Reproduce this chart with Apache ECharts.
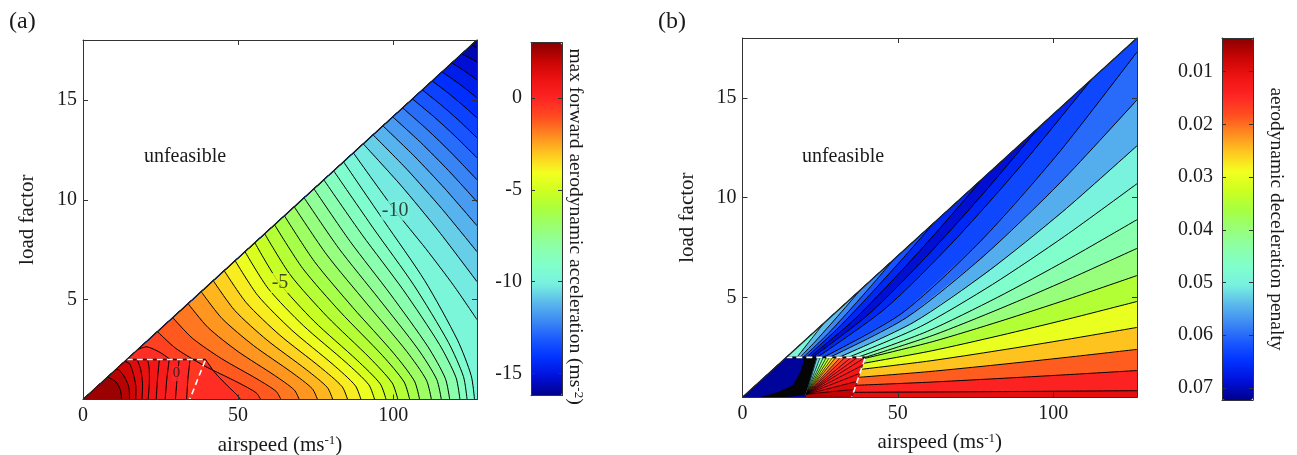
<!DOCTYPE html>
<html>
<head>
<meta charset="utf-8">
<script src="https://cdn.jsdelivr.net/npm/echarts@6/dist/echarts.min.js"></script>
<style>
  html, body { margin: 0; padding: 0; background: #fff; }
  #main { width: 1297px; height: 455px; }
</style>
</head>
<body>
<div id="main"></div>
<script>
const FONT = '"Liberation Serif", "DejaVu Serif", serif';
const TXT = '#1a1a1a';
const AXIS = '#333';
const VMAX = 127;   // airspeed range (ms-1)
const NMAX = 18;    // load factor range

// colour map of both colour bars, from the low end (dark blue) to the high end (dark red)
const jetColors = ['#00008a', '#0010d8', '#0030ff', '#1a58ff', '#3c88f4', '#5ab8ec', '#78f0e0',
  '#80ffcc', '#8cffa8', '#98ff78', '#a8ff40', '#ccff20', '#f4ff20', '#ffc820', '#ff8a20',
  '#ff4c20', '#ff2424', '#ee1212', '#c80404', '#880000'];

// ---------- panel (a): max forward aerodynamic acceleration ----------
const cbarRangeA = [-16.2, 3];
const cbarTicksA = [-15, -10, -5, 0];

// contour lines outside the dashed box, [airspeed, load factor], from the box outwards
const contoursA = [
  [[23.99, 3.4], [29.99, 2.55], [38.98, 1.7], [49.97, 0.85], [55.8, 0.34], [57.3, 0]],
  [[28.93, 4.1], [35.21, 3.075], [44.62, 2.05], [56.13, 1.025], [62.23, 0.41], [63.8, 0]],
  [[33.87, 4.8], [40.32, 3.6], [49.99, 2.4], [61.82, 1.2], [68.09, 0.48], [69.7, 0]],
  [[38.1, 5.4], [44.85, 4.05], [54.98, 2.7], [67.35, 1.35], [73.91, 0.54], [75.6, 0]],
  [[41.98, 5.95], [48.91, 4.46], [59.31, 2.975], [72.03, 1.49], [78.77, 0.6], [80.5, 0]],
  [[45.51, 6.45], [52.67, 4.84], [63.42, 3.225], [76.55, 1.61], [83.51, 0.645], [85.3, 0]],
  [[49.04, 6.95], [56.34, 5.21], [67.29, 3.475], [80.68, 1.74], [87.77, 0.695], [89.6, 0]],
  [[52.21, 7.4], [59.73, 5.55], [71.02, 3.7], [84.81, 1.85], [92.12, 0.74], [94, 0]],
  [[55.39, 7.85], [63.0, 5.89], [74.43, 3.925], [88.39, 1.96], [95.8, 0.785], [97.7, 0]],
  [[58.56, 8.3], [66.89, 6.225], [78.7, 4.15], [92.48, 2.075], [99.65, 0.83], [101.5, 0]],
  [[61.74, 8.75], [70.84, 6.56], [83.0, 4.375], [96.59, 2.19], [103.51, 0.875], [105.3, 0]],
  [[64.92, 9.2], [74.64, 6.9], [87.01, 4.6], [100.22, 2.3], [106.84, 0.92], [108.5, 0]],
  [[68.09, 9.65], [78.61, 7.24], [91.35, 4.825], [104.34, 2.41], [110.71, 0.965], [112.3, 0]],
  [[71.27, 10.1], [82.42, 7.575], [95.33, 5.05], [107.98, 2.525], [114.0, 1.01], [115.5, 0]],
  [[74.44, 10.55], [86.12, 7.91], [99.08, 5.275], [111.2, 2.64], [116.8, 1.055], [118.2, 0]],
  [[77.62, 11.0], [89.95, 8.25], [103.16, 5.5], [114.92, 2.75], [120.23, 1.1], [121.5, 0]],
  [[80.79, 11.45], [93.52, 8.59], [106.64, 5.725], [117.78, 2.86], [122.64, 1.145], [123.8, 0]],
  [[83.97, 11.9], [97.06, 8.925], [110.15, 5.95], [120.71, 2.975], [125.14, 1.19], [126.2, 0]],
  [[87.14, 12.35], [100.6, 9.46], [110.5, 7.55], [119.5, 5.7], [127, 4.0]],
  [[90.32, 12.8], [102.42, 10.73], [114.53, 8.45], [127, 5.9]],
  [[93.49, 13.25], [104.55, 11.5], [115.61, 9.56], [127, 7.4]],
  [[96.67, 13.7], [106.68, 12.2], [116.69, 10.55], [127, 8.7]],
  [[99.84, 14.15], [108.8, 12.875], [117.77, 11.47], [127, 9.9]],
  [[103.02, 14.6], [110.93, 13.52], [118.85, 12.33], [127, 11.0]],
  [[106.19, 15.05], [113.06, 14.165], [119.92, 13.19], [127, 12.1]],
  [[109.37, 15.5], [115.19, 14.78], [121.01, 13.99], [127, 13.1]],
  [[112.54, 15.95], [117.31, 15.395], [122.08, 14.78], [127, 14.1]],
  [[115.72, 16.4], [119.44, 16.01], [123.16, 15.58], [127, 15.1]],
  [[118.89, 16.85], [121.57, 16.595], [124.24, 16.31], [127, 16.0]],
  [[122.07, 17.3], [123.7, 17.18], [125.32, 17.05], [127, 16.9]],
  [[125.24, 17.75], [127, 17.6]]
];
// value of the band lying beyond each of those lines
const bandsA = [-1.25, -1.75, -2.25, -2.75, -3.25, -3.75, -4.25, -4.75, -5.25, -5.75, -6.25,
  -6.75, -7.25, -7.75, -8.25, -8.75, -9.25, -9.75, -10.25, -10.75, -11.25, -11.75, -12.25,
  -12.75, -13.25, -13.75, -14.25, -14.75, -15.25, -15.75, -16.15];
const baseA = -0.75;

// the two short lines that hug the box, and the value on their box side
const nearBoxA = [
  [[17.64, 2.5], [20.6, 2.64], [24.9, 2.35], [28.2, 2.0]],
  [[39.5, 2.0], [42.5, 1.35], [46.5, 0.7], [49.5, 0.25], [50.8, 0]]
];
const nearBoxValsA = [-0.25, -0.25];

// dashed box and the contours inside it
const boxA = [[0, 0], [14.11, 2], [39.5, 2], [34.4, 0]];
const boxValA = -0.5;
const innerA = [
  [[33.4, 0], [33.8, 1.0], [34.5, 2]],
  [[29.8, 0], [30.3, 1.0], [31, 2]],
  [[26.5, 0], [27, 1.0], [27.8, 2]],
  [[23.6, 0], [24, 1.0], [24.6, 2]],
  [[21, 0], [21.4, 0.9], [21.3, 1.6], [20.8, 2]],
  [[19, 0], [19.2, 0.8], [18.6, 1.5], [17.5, 2]],
  [[17, 0], [17, 0.7], [16.2, 1.3], [15, 1.8], [13.5, 1.91]],
  [[15, 0], [14.8, 0.6], [13.5, 1.1], [11.5, 1.5], [10.5, 1.49]],
  [[12.5, 0], [12, 0.5], [10.5, 0.9], [8, 1.13]]
];
const innerValsA = [-0.1, 0.15, 0.45, 0.75, 1.05, 1.4, 1.8, 2.25, 2.7];

// inline contour labels [airspeed, load factor, text, background, font size]
const labelsA = [
  [63.5, 5.83, '-5', '#d8ff20', 20],
  [100.6, 9.46, '-10', '#7cf4dc', 20],
  [30.1, 1.3, '0', '#ff2a2a', 15]
];

// ---------- panel (b): aerodynamic deceleration penalty ----------
const cbarRangeB = [0.0036, 0.0723];
const cbarTicksB = [0.01, 0.02, 0.03, 0.04, 0.05, 0.06, 0.07];

// contour lines outside the box: fan to the right edge, then lines to the diagonal
const contoursB = [
  [[35.74, 0.25], [58.56, 0.266], [81.37, 0.286], [104.19, 0.307], [127, 0.33]],
  [[36.49, 0.6], [59.12, 0.75], [81.75, 0.934], [104.37, 1.131], [127, 1.34]],
  [[37.35, 1.0], [59.76, 1.284], [82.18, 1.631], [104.59, 2.005], [127, 2.4]],
  [[38.21, 1.4], [60.41, 1.826], [82.61, 2.347], [104.8, 2.908], [127, 3.5]],
  [[38.86, 1.7], [60.9, 2.329], [82.93, 3.098], [104.97, 3.926], [127, 4.8]],
  [[39.39, 1.95], [61.29, 2.792], [83.2, 3.822], [105.1, 4.93], [127, 6.1]],
  [[39.5, 2.0], [61.38, 3.108], [83.25, 4.462], [105.13, 5.92], [127, 7.46]],
  [[37, 2], [59.5, 3.304], [82, 5.0], [104.5, 6.885], [127, 8.9]],
  [[34, 2], [57.25, 3.54], [80.5, 5.654], [103.75, 8.073], [127, 10.7]],
  [[31, 2], [55, 3.749], [79, 6.304], [103, 9.293], [127, 12.6]],
  [[28, 2], [52.75, 3.987], [77.5, 7.057], [102.25, 10.746], [127, 14.9]],
  [[26, 2], [51.25, 4.203], [76.5, 7.799], [101.75, 12.236], [127, 17.3]],
  [[24, 2], [46.08, 4.462], [68.15, 7.842], [90.23, 11.709], [112.3, 15.91]],
  [[22.5, 2], [40.78, 4.183], [59.05, 7.024], [77.33, 10.177], [95.6, 13.55]],
  [[21.5, 2], [35.43, 3.815], [49.35, 6.032], [63.28, 8.419], [77.2, 10.94]],
  [[20.5, 2], [30.78, 3.467], [41.05, 5.143], [51.33, 6.906], [61.6, 8.73]],
  [[19.5, 2], [26.78, 3.066], [34.05, 4.284], [41.33, 5.565], [48.6, 6.89]],
  [[18.5, 2], [23.35, 2.785], [28.2, 3.628], [33.05, 4.49], [37.9, 5.37]],
  [[17.5, 2], [19.63, 2.42], [21.75, 2.84], [23.88, 3.26], [26, 3.68]]
];
const bandsB = [0.014, 0.019, 0.025, 0.030, 0.035, 0.040, 0.044, 0.047, 0.050, 0.055, 0.060,
  0.063, 0.066, 0.069, 0.066, 0.062, 0.058, 0.054, 0.049];
const baseB = 0.010;

// inside the dashed box: dark blue corner, dense black band and a fan of thin bands
const boxB = [[0, 0], [14.11, 2], [39.5, 2], [35.2, 0]];
const boxValB = 0.0715;
const blackB = [[20.1, 2], [24, 2], [22.5, 1.2], [20.5, 0.15], [13, 0], [6, 0], [11.4, 0.25],
  [16.3, 0.58], [18.9, 1.33]];
const fanFocusB = [20.5, 0.15];
const fanEdgeB = [[24, 2], [25, 2], [26, 2], [27, 2], [28, 2], [29, 2], [30, 2], [31.5, 2], [33, 2],
  [35, 2], [37, 2], [39.5, 2], [38.64, 1.6], [37.78, 1.2], [36.92, 0.8], [36.06, 0.4], [35.2, 0], [20.5, 0]];
const fanValsB = [0.052, 0.046, 0.041, 0.036, 0.031, 0.026, 0.022, 0.019, 0.016, 0.015, 0.014,
  0.013, 0.012, 0.011, 0.009, 0.007, 0.006];

// ---------- building the shapes ----------
// region on the far side of a line, closed along the triangle edges
function beyond(line) {
  const pts = line.slice();
  const end = line[line.length - 1];
  if (end[1] < 0.01) pts.push([VMAX, 0]);
  if (end[1] < 0.01 || end[0] > VMAX - 0.01) pts.push([VMAX, NMAX]);
  pts.push([0, 0]);
  return pts;
}
const triangle = [[0, 0], [VMAX, 0], [VMAX, NMAX]];

const polysA = [{ pts: triangle, val: baseA }];
contoursA.forEach((c, i) => polysA.push({ pts: beyond(c), val: bandsA[i] }));
polysA.push({ pts: nearBoxA[0].concat([boxA[1]]), val: nearBoxValsA[0] });
polysA.push({ pts: nearBoxA[1].concat([boxA[3]]), val: nearBoxValsA[1] });
polysA.push({ pts: boxA, val: boxValA });
innerA.forEach((c, i) => polysA.push({ pts: c.concat([boxA[1], [0, 0]]), val: innerValsA[i] }));
const linesA = nearBoxA.concat(contoursA, innerA);

const polysB = [{ pts: triangle, val: baseB }];
contoursB.forEach((c, i) => polysB.push({ pts: beyond(c), val: bandsB[i] }));
polysB.push({ pts: boxB, val: boxValB });
polysB.push({ pts: blackB, val: boxValB, fill: '#050505' });
fanValsB.forEach((v, i) => polysB.push({ pts: [fanFocusB, fanEdgeB[i], fanEdgeB[i + 1]], val: v }));
const raysB = fanEdgeB.slice(0, 16).map(p => [fanFocusB, p]);

function bandSeries(axis, polys) {
  return {
    type: 'custom', xAxisIndex: axis, yAxisIndex: axis, clip: true, silent: true,
    data: polys.map((p, i) => [p.pts[0][0], p.pts[0][1], p.val, i]),
    encode: { x: 0, y: 1 },
    renderItem: function (params, api) {
      const p = polys[params.dataIndex];
      const col = p.fill || api.visual('color');
      return {
        type: 'polygon',
        shape: { points: p.pts.map(q => api.coord(q)) },
        style: { fill: col, stroke: col, lineWidth: 0.6 }
      };
    }
  };
}
function lineSeries(axis, lines, width) {
  return {
    type: 'custom', xAxisIndex: axis, yAxisIndex: axis, clip: true, silent: true,
    data: lines.map((l, i) => [l[0][0], l[0][1], i]),
    encode: { x: 0, y: 1 },
    renderItem: function (params, api) {
      return {
        type: 'polyline',
        shape: { points: lines[params.dataIndex].map(q => api.coord(q)), smooth: 0.25 },
        style: { stroke: '#000', fill: 'none', lineWidth: width }
      };
    }
  };
}
function boxSeries(axis, box) {
  return [
    { type: 'line', xAxisIndex: axis, yAxisIndex: axis, data: [box[1], box[2]], symbol: 'none',
      silent: true, lineStyle: { color: '#000', width: 1.6 } },
    { type: 'line', xAxisIndex: axis, yAxisIndex: axis, data: [box[1], box[2], box[3]], symbol: 'none',
      silent: true, lineStyle: { color: '#fff', width: 1.6, type: [6, 4] } }
  ];
}
function diagSeries(axis) {
  return { type: 'line', xAxisIndex: axis, yAxisIndex: axis, data: [[0, 0], [VMAX, NMAX]],
    symbol: 'none', silent: true, clip: false, lineStyle: { color: '#222', width: 1.3 } };
}

// ---------- axes ----------
const tickFont = { fontFamily: FONT, fontSize: 20, color: TXT };
const nameFont = { fontFamily: FONT, fontSize: 21, color: TXT };
const barNameFont = { fontFamily: FONT, fontSize: 19.5, color: TXT };
const supRich = { sup: { fontFamily: FONT, fontSize: 13, color: TXT, verticalAlign: 'top' } };

function plotX(grid, top) {
  return {
    gridIndex: grid, type: 'value', min: 0, max: VMAX, interval: 50, position: top ? 'top' : 'bottom', z: 10,
    axisLine: { show: true, onZero: false, lineStyle: { color: AXIS } },
    axisTick: { show: true, inside: true, length: 5, lineStyle: { color: AXIS } },
    axisLabel: Object.assign({ show: !top, margin: 6, showMaxLabel: false }, tickFont),
    splitLine: { show: false },
    name: top ? '' : 'airspeed (ms{sup|-1})', nameLocation: 'middle', nameGap: 35,
    nameTextStyle: Object.assign({ rich: supRich }, nameFont)
  };
}
function plotY(grid, right) {
  return {
    gridIndex: grid, type: 'value', min: 0, max: NMAX, interval: 5, position: right ? 'right' : 'left', z: 10,
    axisLine: { show: true, onZero: false, lineStyle: { color: AXIS } },
    axisTick: { show: true, inside: true, length: 5, lineStyle: { color: AXIS } },
    axisLabel: Object.assign({ show: !right, margin: 6, showMinLabel: false, showMaxLabel: false }, tickFont),
    splitLine: { show: false },
    name: right ? '' : 'load factor', nameLocation: 'middle', nameGap: 45,
    nameTextStyle: nameFont
  };
}
function barX(grid, top) {
  return {
    gridIndex: grid, type: 'value', min: 0, max: 1, position: top ? 'top' : 'bottom', z: 10,
    axisLine: { show: true, onZero: false, lineStyle: { color: AXIS } },
    axisTick: { show: false }, axisLabel: { show: false }, splitLine: { show: false }
  };
}
function barY(grid, range, ticks, right, inverse, name, gap, fmt) {
  return {
    gridIndex: grid, type: 'value', min: range[0], max: range[1], inverse: inverse,
    position: right ? 'right' : 'left', z: 10,
    axisLine: { show: true, onZero: false, lineStyle: { color: AXIS } },
    axisTick: { show: true, inside: true, length: 4, customValues: ticks, lineStyle: { color: AXIS } },
    axisLabel: Object.assign({ show: !right, margin: 9, customValues: ticks, formatter: fmt }, tickFont),
    splitLine: { show: false },
    name: right ? name : '', nameLocation: 'middle', nameRotate: -90, nameGap: gap,
    nameTextStyle: Object.assign({ rich: supRich }, barNameFont)
  };
}

const gridBase = { containLabel: false, outerBoundsMode: 'none' };
const option = {
  animation: false,
  backgroundColor: '#fff',
  grid: [
    Object.assign({ left: 83, top: 40, width: 394, height: 359.5 }, gridBase),
    Object.assign({ left: 531, top: 42.7, width: 31, height: 353 }, gridBase),
    Object.assign({ left: 742.5, top: 38, width: 394.5, height: 359.3 }, gridBase),
    Object.assign({ left: 1222, top: 38, width: 31, height: 362 }, gridBase)
  ],
  xAxis: [plotX(0, false), plotX(0, true), barX(1, false), barX(1, true),
          plotX(2, false), plotX(2, true), barX(3, false), barX(3, true)],
  yAxis: [plotY(0, false), plotY(0, true),
          barY(1, cbarRangeA, cbarTicksA, false, false, '', 0, v => String(v)),
          barY(1, cbarRangeA, cbarTicksA, true, false,
            '\u00a0\u00a0\u00a0max forward aerodynamic acceleration (ms{sup|-2})', 3, v => String(v)),
          plotY(2, false), plotY(2, true),
          barY(3, cbarRangeB, cbarTicksB, false, true, '', 0, v => v.toFixed(2)),
          barY(3, cbarRangeB, cbarTicksB, true, true, 'aerodynamic deceleration penalty', 13, v => v.toFixed(2))],
  visualMap: [
    { type: 'continuous', seriesIndex: 0, dimension: 2, min: cbarRangeA[0], max: cbarRangeA[1],
      inRange: { color: jetColors }, left: 531, top: 42.7, itemWidth: 31, itemHeight: 353,
      padding: 0, calculable: false, hoverLink: false },
    { type: 'continuous', seriesIndex: 6, dimension: 2, min: cbarRangeB[0], max: cbarRangeB[1],
      inverse: true, inRange: { color: jetColors.slice().reverse() }, left: 1222, top: 38,
      itemWidth: 31, itemHeight: 362, padding: 0, calculable: false, hoverLink: false }
  ],
  series: [
    bandSeries(0, polysA),
    lineSeries(0, linesA, 1),
    {
      type: 'scatter', xAxisIndex: 0, yAxisIndex: 0, symbolSize: 1, silent: true,
      itemStyle: { color: 'rgba(0,0,0,0)' },
      data: labelsA.map(l => ({ value: [l[0], l[1]], name: l[2],
        label: { backgroundColor: l[3], fontSize: l[4] } })),
      label: { show: true, position: 'inside', formatter: p => p.name, fontFamily: FONT,
        color: TXT, padding: [0, 1] }
    }
  ].concat(boxSeries(0, boxA), [diagSeries(0)],
    [bandSeries(4, polysB), lineSeries(4, contoursB, 1), lineSeries(4, raysB, 0.7)],
    boxSeries(4, boxB), [diagSeries(4)]),
  graphic: [
    { type: 'text', x: 9, y: 10, style: { text: '(a)', fontFamily: FONT, fontSize: 24, fill: TXT } },
    { type: 'text', x: 658, y: 10, style: { text: '(b)', fontFamily: FONT, fontSize: 24, fill: TXT } },
    { type: 'text', x: 185, y: 157, style: { text: 'unfeasible', fontFamily: FONT, fontSize: 20, fill: TXT,
      align: 'center', verticalAlign: 'middle' } },
    { type: 'text', x: 843, y: 157, style: { text: 'unfeasible', fontFamily: FONT, fontSize: 20, fill: TXT,
      align: 'center', verticalAlign: 'middle' } }
  ]
};

const chart = echarts.init(document.getElementById('main'));
chart.setOption(option);
</script>
</body>
</html>
